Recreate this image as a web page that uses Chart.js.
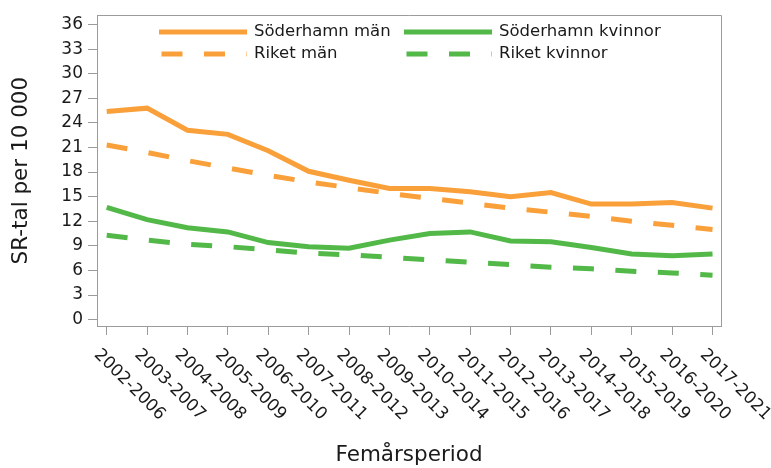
<!DOCTYPE html>
<html>
<head>
<meta charset="utf-8">
<script src="https://cdn.jsdelivr.net/npm/chart.js@4.4.1/dist/chart.umd.min.js"></script>
<style>
  html, body { margin: 0; padding: 0; background: #fff; }
</style>
</head>
<body>
<canvas id="myChart" width="771" height="468"></canvas>
<script>
// data
const periods = [
  '2002-2006', '2003-2007', '2004-2008', '2005-2009', '2006-2010', '2007-2011',
  '2008-2012', '2009-2013', '2010-2014', '2011-2015', '2012-2016', '2013-2017',
  '2014-2018', '2015-2019', '2016-2020', '2017-2021'
];
const soderhamnMan = [25.4, 25.8, 23.1, 22.6, 20.6, 18.1, 17.0, 16.0, 16.0, 15.6, 15.0, 15.5, 14.1, 14.1, 14.3, 13.6];
const soderhamnKvinnor = [13.7, 12.2, 11.2, 10.7, 9.4, 8.9, 8.7, 9.7, 10.5, 10.7, 9.6, 9.5, 8.8, 8.0, 7.8, 8.0];
const riketMan = [21.3, 20.4, 19.4, 18.5, 17.6, 16.8, 16.1, 15.4, 14.8, 14.2, 13.6, 13.1, 12.6, 12.0, 11.5, 11.0];
const riketKvinnor = [10.3, 9.7, 9.2, 8.9, 8.5, 8.1, 7.9, 7.6, 7.3, 7.0, 6.7, 6.4, 6.2, 5.9, 5.7, 5.4];
const yTicks = [0, 3, 6, 9, 12, 15, 18, 21, 24, 27, 30, 33, 36];

const orange = '#F9A03A';
const green = '#52B848';
const axisGrey = '#9b9b9b';
const textColor = '#1a1a1a';
const family = '"DejaVu Sans", Verdana, sans-serif';
const dash = [21, 21.5];

function toPoints(values) {
  return values.map((v, i) => ({x: i, y: v}));
}

// top + right edge of the plot box
const frame = {
  id: 'frame',
  beforeDatasetsDraw(chart) {
    const {ctx, chartArea: a} = chart;
    ctx.save();
    ctx.strokeStyle = axisGrey;
    ctx.lineWidth = 1;
    ctx.beginPath();
    ctx.moveTo(a.left, Math.round(a.top) + 0.5);
    ctx.lineTo(Math.round(a.right) + 0.5, Math.round(a.top) + 0.5);
    ctx.lineTo(Math.round(a.right) + 0.5, a.bottom);
    ctx.stroke();
    ctx.restore();
  }
};

// x labels slanted down to the right, starting at the tick
const slantedLabels = {
  id: 'slantedLabels',
  afterDraw(chart) {
    const {ctx} = chart;
    const xs = chart.scales.x;
    ctx.save();
    ctx.fillStyle = textColor;
    ctx.font = '17px ' + family;
    ctx.textAlign = 'left';
    ctx.textBaseline = 'middle';
    periods.forEach((p, i) => {
      const px = xs.getPixelForValue(i);
      ctx.save();
      ctx.translate(px - 10, xs.top + 26);
      ctx.rotate(Math.PI / 4);
      ctx.fillText(p, 0, 0);
      ctx.restore();
    });
    ctx.restore();
  }
};

// legend inside the plot, two columns
const insideLegend = {
  id: 'insideLegend',
  afterDraw(chart) {
    const {ctx} = chart;
    const colX = [159, 404];
    const rowY = [32, 54];
    ctx.save();
    ctx.font = '16.5px ' + family;
    ctx.textBaseline = 'middle';
    chart.data.datasets.forEach((ds, i) => {
      const x = colX[i % 2];
      const y = rowY[Math.floor(i / 2)];
      ctx.strokeStyle = ds.borderColor;
      ctx.lineWidth = 5;
      ctx.lineCap = 'butt';
      ctx.setLineDash(ds.borderDash || []);
      ctx.beginPath();
      if (ds.borderDash) {
        ctx.moveTo(x + 2.5, y);
      } else {
        ctx.moveTo(x, y);
      }
      ctx.lineTo(x + 88, y);
      ctx.stroke();
      ctx.setLineDash([]);
      ctx.fillStyle = textColor;
      ctx.fillText(ds.label, x + 95, y);
    });
    ctx.restore();
  }
};

const myChartRef = document.getElementById('myChart').getContext('2d');

new Chart(myChartRef, {
  type: 'line',
  data: {
    datasets: [
      {label: 'Söderhamn män', data: toPoints(soderhamnMan), borderColor: orange},
      {label: 'Söderhamn kvinnor', data: toPoints(soderhamnKvinnor), borderColor: green},
      {label: 'Riket män', data: toPoints(riketMan), borderColor: orange, borderDash: dash},
      {label: 'Riket kvinnor', data: toPoints(riketKvinnor), borderColor: green, borderDash: dash}
    ]
  },
  options: {
    responsive: false,
    animation: false,
    devicePixelRatio: 1,
    layout: {padding: {top: 13, right: 50, left: 0, bottom: 0}},
    elements: {
      line: {borderWidth: 5, tension: 0, fill: false, borderCapStyle: 'butt'},
      point: {radius: 0, hoverRadius: 0}
    },
    plugins: {
      legend: {display: false},
      tooltip: {enabled: false}
    },
    scales: {
      x: {
        type: 'linear',
        min: -0.24,
        max: 15.21,
        afterBuildTicks: s => { s.ticks = periods.map((p, i) => ({value: i})); },
        afterFit: s => { s.height = 142; },
        ticks: {display: false},
        grid: {drawOnChartArea: false, drawTicks: true, tickLength: 9, color: axisGrey},
        border: {color: axisGrey},
        title: {
          display: true,
          text: 'Femårsperiod',
          color: textColor,
          font: {family: family, size: 21.5},
          padding: 0
        }
      },
      y: {
        min: -0.78,
        max: 37.14,
        afterBuildTicks: s => { s.ticks = yTicks.map(v => ({value: v})); },
        afterFit: s => { s.width = 97; },
        ticks: {color: textColor, font: {family: family, size: 17}, padding: 5, autoSkip: false},
        grid: {drawOnChartArea: false, drawTicks: true, tickLength: 9, color: axisGrey},
        border: {color: axisGrey},
        title: {
          display: true,
          text: 'SR-tal per 10 000',
          color: textColor,
          font: {family: family, size: 21.5},
          padding: {top: 9, bottom: 0}
        }
      }
    }
  },
  plugins: [frame, slantedLabels, insideLegend]
});
</script>
</body>
</html>
